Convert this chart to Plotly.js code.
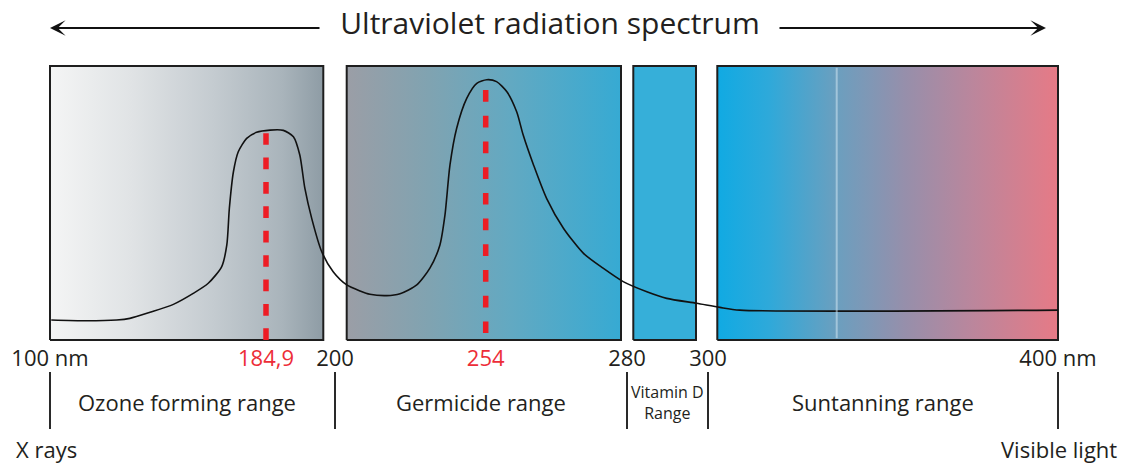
<!DOCTYPE html>
<html><head><meta charset="utf-8">
<script src="https://cdn.plot.ly/plotly-3.0.1.min.js"></script>
<style>html,body{margin:0;padding:0;background:#fff}#chart{width:1127px;height:464px}</style>
</head><body><div id="chart"></div>
<script>
// ---------- data ----------
const titleText = 'Ultraviolet radiation spectrum';
const curveNm = [100.5,114.4,126.2,131.4,139.3,148.5,156.3,162.2,167.5,169.5,170.5,172.1,174.0,177.3,181.2,
  185.8,188.7,190.9,192.3,193.4,194.9,197.1,199.6,204.2,209.0,212.5,218.5,223.3,229.3,234.0,237.6,239.4,241.2,
  243.6,247.2,250.8,254.2,256.0,257.9,259.7,260.9,262.8,265.2,268.3,272.0,275.6,279.3,284.9,289.8,297.2,303.4,309.1,400];
const curveIntensity = [7.3,7.0,7.3,7.9,10.1,13.0,17.0,20.7,26.8,34.7,48.1,61.4,68.7,73.6,75.8,
  76.6,76.5,74.2,67.5,55.4,44.4,32.2,24.9,20.1,17.9,16.7,16.2,16.9,20.1,26.2,34.7,45.6,63.9,
  77.3,88.2,93.7,95.0,94.3,90.6,83.3,74.8,63.9,51.7,40.8,31.6,26.2,21.3,17.6,15.2,13.4,11.9,10.9,10.9];
const rangeNames = ['Ozone forming range','Germicide range','Vitamin D<br>Range','Suntanning range'];
const rangeStartNm = [100,200,280,300];
const rangeEndNm = [200,280,300,400];
const markerNm = [184.9,254];
const markerTopIntensity = [75.5,91.2];
const tickNm = [100,184.9,200,254,280,300,400];
const tickLabels = ['100 nm','<span style="color:#ed2d38">184,9</span>','200','<span style="color:#ed2d38">254</span>','280','300','400 nm'];
const boundaryNm = [100,200,280,300,400];
const outerLabels = ['X rays','Visible light'];

// ---------- schematic (non-linear) wavelength scale ----------
const SCALE_NM = [100,184.9,200,254,280,300,400];
const SCALE_U  = [0,216,285,435.7,577,658,1008];
function u(nm){
  for(let i=0;i<SCALE_NM.length-1;i++){
    if(nm<=SCALE_NM[i+1]||i===SCALE_NM.length-2){
      const t=(nm-SCALE_NM[i])/(SCALE_NM[i+1]-SCALE_NM[i]);
      return SCALE_U[i]+t*(SCALE_U[i+1]-SCALE_U[i]);
    }
  }
}

// ---------- styles ----------
const FONT='"Open Sans", "Noto Sans", sans-serif';
const INK='#231f20';
const RED='#ed1c24';
const insetL=[0,11.7,6.3,9.3];
const insetR=[11.7,6,12,0];
const boxScales=[
  [[0,'#f4f5f5'],[0.3,'#e0e3e5'],[0.6,'#c4cbd0'],[0.85,'#a9b4bb'],[1,'#8e9ca5']],
  [[0,'#9b9ea6'],[0.3,'#80a3b1'],[0.6,'#62a9c2'],[1,'#36aad3']],
  [[0,'#36afd9'],[1,'#36afd9']],
  [[0,'#10aae3'],[0.15,'#2ea9da'],[0.35,'#6b9fbf'],[0.55,'#968fab'],[0.75,'#bb869c'],[1,'#e67a86']]
];

const traces=[];
rangeNames.forEach((n,i)=>{
  const x0=u(rangeStartNm[i])+insetL[i], x1=u(rangeEndNm[i])-insetR[i];
  traces.push({type:'scatter',mode:'lines',x:[x0,x1,x1,x0,x0],y:[0,0,100,100,0],
    fill:'toself',fillgradient:{type:'horizontal',colorscale:boxScales[i]},
    line:{color:'#1e1e1e',width:2},hoverinfo:'skip',showlegend:false});
});
traces.push({type:'scatter',mode:'lines',x:curveNm.map(u),y:curveIntensity,
  line:{color:'#111',width:1.6,shape:'spline',smoothing:0.7},hoverinfo:'skip',showlegend:false});
markerNm.forEach((m,i)=>{
  traces.push({type:'scatter',mode:'lines',x:[u(m),u(m)],y:[markerTopIntensity[i],0],
    line:{color:RED,width:5.5,dash:i===0?'11.7px,12.7px':'11.7px,14px'},hoverinfo:'skip',showlegend:false});
});

// layout geometry
const W=1127,H=464,ML=48,MR=67,MT=64,MB=122;
const PW=W-ML-MR, PH=H-MT-MB;
const px2paperX=px=>(px-ML)/PW;
const py2paperY=py=>(H-MB-py)/PH;

const shapes=[];
boundaryNm.forEach(b=>{
  shapes.push({type:'line',xref:'x',yref:'paper',x0:u(b),x1:u(b),y0:py2paperY(372),y1:py2paperY(429),
    line:{color:'#2a2a2a',width:2}});
});
// faint light stripe inside the suntanning box
shapes.push({type:'line',xref:'x',yref:'y',x0:786.7,x1:786.7,y0:0.6,y1:99.4,layer:'above',
  line:{color:'rgba(205,228,240,0.55)',width:2}});

const annotations=[];
rangeNames.forEach((n,i)=>{
  const vit=i===2;
  annotations.push({xref:'x',yref:'paper',x:(u(rangeStartNm[i])+u(rangeEndNm[i]))/2 - (i===0?6:0),
    y:py2paperY(402),yanchor:'middle',xanchor:'center',showarrow:false,text:n,
    font:{family:FONT,size:vit?16:22,color:INK}});
});
annotations.push({xref:'paper',yref:'paper',x:px2paperX(14),y:py2paperY(449),xanchor:'left',yanchor:'middle',
  showarrow:false,text:outerLabels[0],font:{family:FONT,size:22,color:INK}});
annotations.push({xref:'paper',yref:'paper',x:px2paperX(1119),y:py2paperY(449),xanchor:'right',yanchor:'middle',
  showarrow:false,text:outerLabels[1],font:{family:FONT,size:22,color:INK}});
// arrows around title
annotations.push({xref:'paper',yref:'paper',x:px2paperX(50),y:py2paperY(28),ax:271,ay:0,text:'',showarrow:true,
  arrowhead:3,arrowsize:1.3,arrowwidth:2,arrowcolor:'#111',standoff:0});
annotations.push({xref:'paper',yref:'paper',x:px2paperX(1046),y:py2paperY(28),ax:-268,ay:0,text:'',showarrow:true,
  arrowhead:3,arrowsize:1.3,arrowwidth:2,arrowcolor:'#111',standoff:0});

const layout={
  width:W,height:H,margin:{l:ML,r:MR,t:MT,b:MB,pad:0},
  paper_bgcolor:'#fff',plot_bgcolor:'rgba(0,0,0,0)',showlegend:false,
  title:{text:titleText,font:{family:FONT,size:30,color:INK},x:550/W,xanchor:'center',
    y:1-23/H,yanchor:'middle',yref:'container'},
  xaxis:{range:[-2,1010],showgrid:false,zeroline:false,showline:false,ticks:'',
    tickmode:'array',tickvals:tickNm.map(u),ticktext:tickLabels,
    tickfont:{family:FONT,size:22,color:INK},ticklabelstandoff:1,fixedrange:true},
  yaxis:{range:[-100*2/274,100+100*2/274],showgrid:false,zeroline:false,showline:false,
    showticklabels:false,ticks:'',fixedrange:true},
  shapes:shapes,annotations:annotations
};
Plotly.newPlot('chart',traces,layout,{staticPlot:true,displayModeBar:false});
</script></body></html>
